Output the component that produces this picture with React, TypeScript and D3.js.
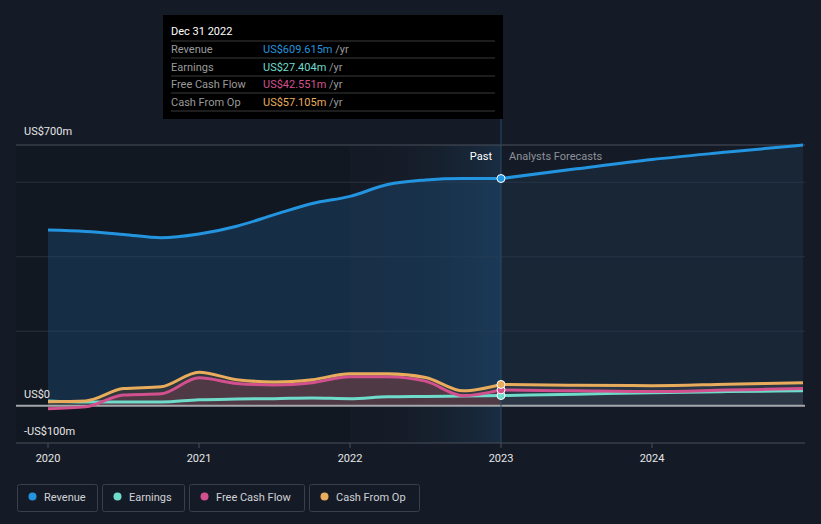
import React, { useEffect, useRef } from 'react';
import * as d3 from 'd3';

// Values in US$m, x in fractional years
const pastYears = [2020, 2020.25, 2020.5, 2020.75, 2021, 2021.25, 2021.5, 2021.75, 2022, 2022.25, 2022.5, 2022.75, 2023];
const revenuePast = [472, 468, 460, 451, 461, 482, 513, 543, 562, 594, 606, 610, 610];
const earningsPast = [13, 10, 10, 10, 16, 18, 19, 21, 19, 24, 25, 26, 27.4];
const fcfPast = [-8, -3, 29, 32, 75, 60, 56, 62, 78, 78, 66, 27, 42.6];
const cfoPast = [11, 13, 46, 51, 90, 70, 64, 70, 86, 86, 76, 40, 57.1];

const forecastYears = [2023, 2023.5, 2024, 2024.5, 2025];
const revenueFc = [610, 636, 661, 681, 700];
const earningsFc = [27.4, 31, 35, 38, 40];
const fcfFc = [42.6, 40, 38, 42, 46];
const cfoFc = [57.1, 55, 54, 58, 62];

const xTicks = [2020, 2021, 2022, 2023, 2024];
const legendNames = ['Revenue', 'Earnings', 'Free Cash Flow', 'Cash From Op'];
const colors = ['#2394df', '#6fdccb', '#d3508e', '#e9ac5c'];
const tooltipValues = ['US$609.615m', 'US$27.404m', 'US$42.551m', 'US$57.105m'];

const App: React.FC = () => {
  const svgRef = useRef<SVGSVGElement>(null);

  useEffect(() => {
    if (!svgRef.current) return;
    const svg = d3.select(svgRef.current);
    svg.selectAll('*').remove();

    const width = 821;
    const height = 524;
    const font = 'Roboto, sans-serif';

    const x = d3.scaleLinear().domain([2020, 2025]).range([48, 803]);
    const y = d3.scaleLinear().domain([-100, 700]).range([443, 145]);
    const x0 = 16;
    const x1 = 805;

    svg.append('rect').attr('width', width).attr('height', height).attr('fill', '#151b26');

    const defs = svg.append('defs');
    const pastGrad = defs.append('linearGradient').attr('id', 'pastGrad').attr('x1', 0).attr('x2', 1).attr('y1', 0).attr('y2', 0);
    pastGrad.append('stop').attr('offset', '0%').attr('stop-color', '#11161f').attr('stop-opacity', 0.0);
    pastGrad.append('stop').attr('offset', '100%').attr('stop-color', '#1c3954').attr('stop-opacity', 0.6);

    // past highlight band
    svg.append('rect')
      .attr('x', x(2022)).attr('y', y(700)).attr('width', x(2023) - x(2022)).attr('height', y(-100) - y(700))
      .attr('fill', 'url(#pastGrad)');
    svg.append('rect')
      .attr('x', x0).attr('y', y(700)).attr('width', x(2022) - x0).attr('height', y(-100) - y(700))
      .attr('fill', '#0f131b').attr('opacity', 0.35);

    // gridlines
    [0, 200, 400, 600].forEach(v => {
      svg.append('line').attr('x1', x0).attr('x2', x1).attr('y1', y(v)).attr('y2', y(v))
        .attr('stroke', '#2a313d').attr('stroke-width', 1);
    });
    svg.append('line').attr('x1', x0).attr('x2', x1).attr('y1', y(700)).attr('y2', y(700))
      .attr('stroke', '#4a505a').attr('stroke-width', 1);

    type P = { t: number; v: number };
    const mk = (ts: number[], vs: number[]): P[] => ts.map((t, i) => ({ t, v: vs[i] }));
    const line = d3.line<P>().x(d => x(d.t)).y(d => y(d.v)).curve(d3.curveMonotoneX);
    const area = d3.area<P>().x(d => x(d.t)).y0(y(0)).y1(d => y(d.v)).curve(d3.curveMonotoneX);

    const pastSeries = [revenuePast, earningsPast, fcfPast, cfoPast].map(s => mk(pastYears, s));
    const fcSeries = [revenueFc, earningsFc, fcfFc, cfoFc].map(s => mk(forecastYears, s));

    // area fills
    svg.append('path').datum(pastSeries[0]).attr('d', area).attr('fill', '#1d4a70').attr('opacity', 0.45);
    svg.append('path').datum(fcSeries[0]).attr('d', area).attr('fill', '#1f3b56').attr('opacity', 0.35);
    svg.append('path').datum(pastSeries[3]).attr('d', area).attr('fill', '#3a3d3a').attr('opacity', 0.7);
    svg.append('path').datum(pastSeries[2]).attr('d', area).attr('fill', '#6a3a4a').attr('opacity', 0.55);
    svg.append('path').datum(fcSeries[3]).attr('d', area).attr('fill', '#3b4250').attr('opacity', 0.6);

    // zero line
    svg.append('line').attr('x1', x0).attr('x2', x1).attr('y1', y(0)).attr('y2', y(0))
      .attr('stroke', '#a3a6ab').attr('stroke-width', 2);
    // bottom line
    svg.append('line').attr('x1', x0).attr('x2', x1).attr('y1', y(-100)).attr('y2', y(-100))
      .attr('stroke', '#4a505a').attr('stroke-width', 1);

    // divider at 2023
    svg.append('line').attr('x1', x(2023)).attr('x2', x(2023)).attr('y1', 15).attr('y2', y(-100))
      .attr('stroke', '#284a68').attr('stroke-width', 1);

    // lines
    [1, 2, 3, 0].forEach(i => {
      svg.append('path').datum(pastSeries[i]).attr('d', line).attr('fill', 'none')
        .attr('stroke', colors[i]).attr('stroke-width', 3);
      svg.append('path').datum(fcSeries[i]).attr('d', line).attr('fill', 'none')
        .attr('stroke', colors[i]).attr('stroke-width', 3);
    });

    // markers
    [1, 2, 3, 0].forEach(i => {
      const last = pastSeries[i][pastSeries[i].length - 1];
      svg.append('circle').attr('cx', x(last.t)).attr('cy', y(last.v)).attr('r', 4)
        .attr('fill', colors[i]).attr('stroke', '#ffffff').attr('stroke-width', 1);
    });

    // y labels
    const yLab = [{ v: 700, t: 'US$700m', dy: -10 }, { v: 0, t: 'US$0', dy: -8 }, { v: -100, t: '-US$100m', dy: -8 }];
    yLab.forEach(l => {
      svg.append('text').attr('x', 24).attr('y', y(l.v) + l.dy).text(l.t)
        .attr('fill', '#e6e6e6').attr('font-size', 11).attr('font-family', font);
    });

    // x axis
    xTicks.forEach(t => {
      svg.append('line').attr('x1', x(t)).attr('x2', x(t)).attr('y1', y(-100)).attr('y2', y(-100) + 5)
        .attr('stroke', '#4a505a');
      svg.append('text').attr('x', x(t)).attr('y', 462).attr('text-anchor', 'middle').text(String(t))
        .attr('fill', '#e6e6e6').attr('font-size', 11).attr('font-family', font);
    });

    // Past / forecast
    svg.append('text').attr('x', x(2023) - 9).attr('y', 160).attr('text-anchor', 'end').text('Past')
      .attr('fill', '#ffffff').attr('font-size', 11).attr('font-family', font);
    svg.append('text').attr('x', x(2023) + 8).attr('y', 160).text('Analysts Forecasts')
      .attr('fill', '#8d9199').attr('font-size', 11).attr('font-family', font);

    // tooltip
    const tt = svg.append('g');
    tt.append('rect').attr('x', 163).attr('y', 15).attr('width', 340).attr('height', 104).attr('fill', '#000000');
    tt.append('text').attr('x', 171).attr('y', 35).text('Dec 31 2022')
      .attr('fill', '#ffffff').attr('font-size', 11).attr('font-family', font);
    [41, 58, 76, 93, 111].forEach(ly => {
      tt.append('line').attr('x1', 171).attr('x2', 495).attr('y1', ly).attr('y2', ly).attr('stroke', '#3a3a3a');
    });
    legendNames.forEach((n, i) => {
      const ty = 53 + i * 17.5;
      tt.append('text').attr('x', 171).attr('y', ty).text(n)
        .attr('fill', '#9a9a9a').attr('font-size', 11).attr('font-family', font);
      const tx = tt.append('text').attr('x', 263).attr('y', ty).attr('font-size', 11).attr('font-family', font);
      tx.append('tspan').attr('fill', colors[i]).text(tooltipValues[i]);
      tx.append('tspan').attr('fill', '#9a9a9a').text(' /yr');
    });

    // legend
    const widths = [80, 82, 115, 110];
    let lx = 17;
    legendNames.forEach((n, i) => {
      const g = svg.append('g').attr('transform', `translate(${lx},484)`);
      g.append('rect').attr('x', 0.5).attr('y', 0.5).attr('width', widths[i]).attr('height', 27).attr('rx', 2)
        .attr('fill', 'none').attr('stroke', '#3a404b');
      g.append('circle').attr('cx', 15.5).attr('cy', 12.5).attr('r', 4).attr('fill', colors[i]);
      g.append('text').attr('x', 27).attr('y', 16.5).text(n)
        .attr('fill', '#d0d2d6').attr('font-size', 11).attr('font-family', font);
      lx += widths[i] + 5;
    });
  }, []);

  return (
    <svg ref={svgRef} width={821} height={524} viewBox="0 0 821 524"
      style={{ display: 'block', position: 'absolute', left: 0, top: 0 }} />
  );
};

export default App;
